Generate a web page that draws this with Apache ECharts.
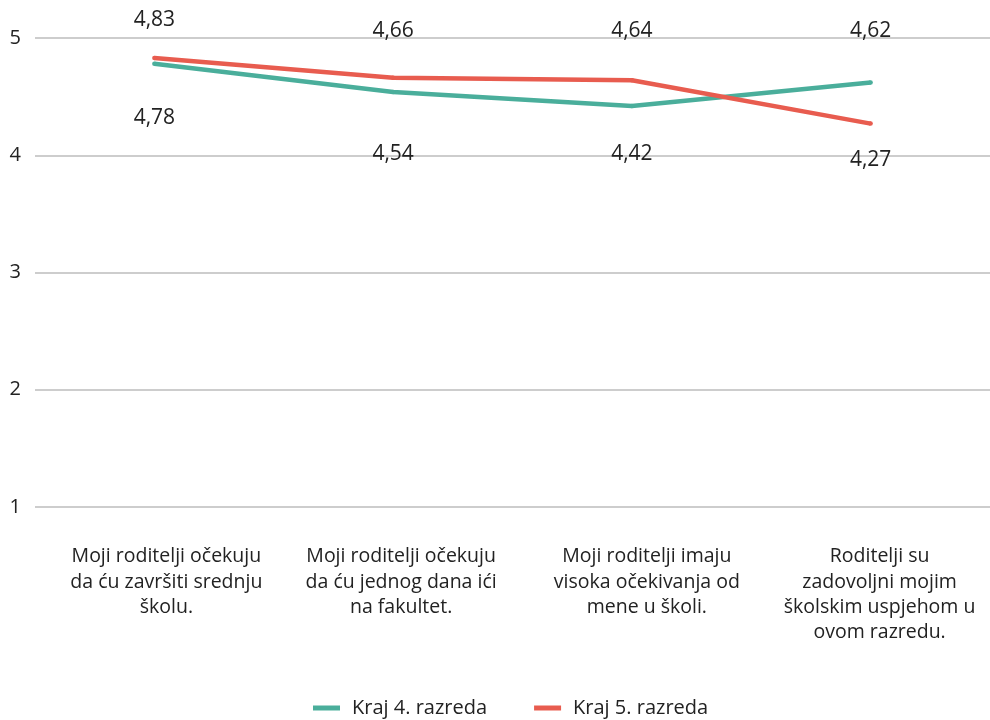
<!DOCTYPE html>
<html><head><meta charset="utf-8">
<script src="https://cdn.jsdelivr.net/npm/echarts@6/dist/echarts.min.js"></script>
<style>html,body{margin:0;padding:0;background:#fff}#c{width:990px;height:720px}</style>
</head><body><div id="c"></div>
<script>
const categories = [
  'Moji roditelji očekuju\nda ću završiti srednju\nškolu.',
  'Moji roditelji očekuju\nda ću jednog dana ići\nna fakultet.',
  'Moji roditelji imaju\nvisoka očekivanja od\nmene u školi.',
  'Roditelji su\nzadovoljni mojim\nškolskim uspjehom u\novom razredu.'
];
const seriesNames = ['Kraj 4. razreda', 'Kraj 5. razreda'];
const kraj4 = [4.78, 4.54, 4.42, 4.62];
const kraj5 = [4.83, 4.66, 4.64, 4.27];
const yTicks = [1, 2, 3, 4, 5];

const FONT = 'Open Sans';
const colors = ['#4aae9b', '#e85c4f'];
// label placement (style): position and distance per point
const labelPos4 = [['bottom', 41], ['bottom', 49], ['bottom', 35], ['top', 39]];
const labelPos5 = [['top', 25], ['top', 34], ['top', 36], ['bottom', 24]];
// horizontal nudge of category labels (style)
const catShift = [12, 8, 15, 9];

function mk(values, pos) {
  return values.map((v, i) => ({
    value: v,
    label: { position: pos[i][0], distance: pos[i][1] }
  }));
}
const fmt = p => String(p.value).replace('.', ',');

const rich = {};
catShift.forEach((s, i) => {
  rich['c' + i] = { fontFamily: FONT, fontSize: 19.5, color: '#222', lineHeight: 25.3, padding: [0, 0, 0, 2 * s] };
});

const chart = echarts.init(document.getElementById('c'), null, { renderer: 'canvas' });
chart.setOption({
  animation: false,
  textStyle: { fontFamily: FONT },
  grid: { left: 35, right: 0, top: 38, bottom: 213, containLabel: false },
  legend: {
    top: 693, left: 308, itemGap: 47, itemWidth: 27, itemHeight: 5,
    icon: 'rect',
    textStyle: { fontFamily: FONT, fontSize: 20, color: '#222', padding: [0, 0, 0, 7] },
    data: seriesNames
  },
  xAxis: {
    type: 'category', data: categories, boundaryGap: true,
    axisLine: { show: false }, axisTick: { show: false },
    axisLabel: {
      fontFamily: FONT, fontSize: 19.5, color: '#222', lineHeight: 25.3, margin: 37, interval: 0, align: 'center',
      formatter: (v, i) => v.split('\n').map(l => '{c' + i + '|' + l + '}').join('\n'),
      rich: rich
    }
  },
  yAxis: {
    type: 'value', min: yTicks[0], max: yTicks[yTicks.length - 1], interval: 1,
    axisLine: { show: false }, axisTick: { show: false },
    axisLabel: { fontFamily: FONT, fontSize: 20, color: '#222', margin: 14 },
    splitLine: { lineStyle: { color: '#bdbdbd', width: 1.5 } }
  },
  series: [
    {
      name: seriesNames[0], type: 'line', data: mk(kraj4, labelPos4),
      color: colors[0], symbol: 'circle', symbolSize: 4.5,
      lineStyle: { width: 4.5, color: colors[0] },
      label: { show: true, formatter: fmt, fontFamily: FONT, fontSize: 21, color: '#222' }
    },
    {
      name: seriesNames[1], type: 'line', data: mk(kraj5, labelPos5),
      color: colors[1], symbol: 'circle', symbolSize: 4.5,
      lineStyle: { width: 4.5, color: colors[1] },
      label: { show: true, formatter: fmt, fontFamily: FONT, fontSize: 21, color: '#222' }
    }
  ]
});
</script></body></html>
